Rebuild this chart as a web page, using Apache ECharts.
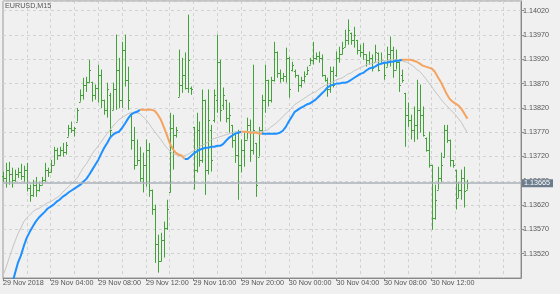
<!DOCTYPE html>
<html><head><meta charset="utf-8">
<script src="https://cdn.jsdelivr.net/npm/echarts@6/dist/echarts.min.js"></script>
<style>html,body{margin:0;padding:0;background:#f0f0f0}#c{width:560px;height:294px}</style>
</head><body><div id="c"></div>
<script>
const tickLabels = ['29 Nov 2018','29 Nov 04:00','29 Nov 08:00','29 Nov 12:00','29 Nov 16:00','29 Nov 20:00','30 Nov 00:00','30 Nov 04:00','30 Nov 08:00','30 Nov 12:00'];
const opens = [
1.13680,1.13676,1.13693,1.13683,1.13672,1.13685,1.13689,1.13680,1.13693,1.13656,
1.13641,1.13662,1.13652,1.13662,1.13672,1.13693,1.13689,1.13703,1.13734,1.13724,
1.13734,1.13730,1.13761,1.13779,1.13775,1.13792,1.13833,1.13847,1.13868,1.13874,
1.13874,1.13847,1.13862,1.13888,1.13837,1.13816,1.13847,1.13816,1.13858,1.13899,
1.13837,1.13940,1.13878,1.13806,1.13755,1.13703,1.13713,1.13676,1.13703,1.13734,
1.13652,1.13611,1.13539,1.13504,1.13549,1.13573,1.13646,1.13779,1.13765,1.13843,
1.13868,1.13888,1.13862,1.13862,1.13781,1.13693,1.13775,1.13713,1.13837,1.13693,
1.13775,1.13796,1.13837,1.13915,1.13827,1.13837,1.13800,1.13785,1.13755,1.13724,
1.13703,1.13734,1.13755,1.13785,1.13734,1.13748,1.13720,1.13775,1.13837,1.13878,
1.13837,1.13878,1.13936,1.13892,1.13882,1.13886,1.13923,1.13899,1.13895,1.13888,
1.13868,1.13878,1.13890,1.13909,1.13919,1.13923,1.13927,1.13923,1.13888,1.13878,
1.13858,1.13895,1.13888,1.13923,1.13930,1.13946,1.13960,1.13975,1.13960,1.13960,
1.13940,1.13936,1.13930,1.13919,1.13923,1.13915,1.13934,1.13913,1.13915,1.13905,
1.13930,1.13940,1.13899,1.13915,1.13888,1.13851,1.13806,1.13796,1.13775,1.13785,
1.13816,1.13806,1.13759,1.13734,1.13703,1.13594,1.13652,1.13676,1.13718,1.13775,
1.13755,1.13713,1.13693,1.13635,1.13652,1.13676,1.13652];
const highs = [
1.13689,1.13707,1.13709,1.13697,1.13693,1.13697,1.13705,1.13701,1.13707,1.13662,
1.13672,1.13678,1.13668,1.13678,1.13707,1.13697,1.13713,1.13740,1.13738,1.13740,
1.13748,1.13750,1.13785,1.13792,1.13781,1.13820,1.13858,1.13882,1.13884,1.13919,
1.13874,1.13868,1.13909,1.13899,1.13837,1.13872,1.13851,1.13872,1.13971,1.13923,
1.13956,1.13971,1.13905,1.13810,1.13781,1.13755,1.13740,1.13728,1.13755,1.13748,
1.13652,1.13621,1.13559,1.13563,1.13586,1.13631,1.13810,1.13806,1.13781,1.13940,
1.13923,1.13934,1.14012,1.13864,1.13781,1.13810,1.13792,1.13858,1.13837,1.13858,
1.13785,1.13858,1.13971,1.13919,1.13862,1.13837,1.13831,1.13785,1.13769,1.13775,
1.13755,1.13769,1.13800,1.13796,1.13909,1.13748,1.13781,1.13847,1.13909,1.13878,
1.13884,1.13956,1.13936,1.13899,1.13892,1.13944,1.13925,1.13915,1.13899,1.13888,
1.13884,1.13895,1.13905,1.13923,1.13956,1.13934,1.13936,1.13930,1.13888,1.13882,
1.13905,1.13905,1.13936,1.13946,1.13956,1.13981,1.14002,1.13975,1.13987,1.13960,
1.13950,1.13954,1.13930,1.13936,1.13930,1.13950,1.13934,1.13934,1.13915,1.13946,
1.13967,1.13946,1.13940,1.13915,1.13899,1.13851,1.13831,1.13806,1.13823,1.13878,
1.13868,1.13823,1.13759,1.13771,1.13703,1.13662,1.13699,1.13728,1.13785,1.13785,
1.13755,1.13713,1.13693,1.13668,1.13693,1.13699,1.13672];
const lows = [
1.13668,1.13656,1.13662,1.13656,1.13668,1.13676,1.13672,1.13668,1.13648,1.13627,
1.13637,1.13637,1.13648,1.13662,1.13668,1.13678,1.13687,1.13703,1.13713,1.13720,
1.13720,1.13724,1.13761,1.13769,1.13761,1.13792,1.13833,1.13837,1.13853,1.13872,
1.13833,1.13837,1.13831,1.13820,1.13806,1.13800,1.13761,1.13816,1.13816,1.13820,
1.13820,1.13864,1.13816,1.13734,1.13693,1.13703,1.13668,1.13646,1.13658,1.13637,
1.13600,1.13501,1.13481,1.13504,1.13512,1.13569,1.13646,1.13693,1.13759,1.13843,
1.13851,1.13858,1.13851,1.13847,1.13652,1.13687,1.13699,1.13707,1.13641,1.13683,
1.13689,1.13790,1.13810,1.13792,1.13816,1.13790,1.13769,1.13738,1.13707,1.13631,
1.13687,1.13699,1.13755,1.13709,1.13724,1.13637,1.13720,1.13769,1.13810,1.13823,
1.13831,1.13874,1.13882,1.13872,1.13874,1.13872,1.13841,1.13895,1.13882,1.13853,
1.13862,1.13872,1.13888,1.13909,1.13909,1.13919,1.13913,1.13884,1.13874,1.13843,
1.13851,1.13862,1.13884,1.13913,1.13930,1.13946,1.13950,1.13950,1.13944,1.13930,
1.13925,1.13919,1.13905,1.13909,1.13895,1.13915,1.13895,1.13913,1.13878,1.13905,
1.13905,1.13882,1.13899,1.13853,1.13872,1.13740,1.13781,1.13755,1.13750,1.13755,
1.13769,1.13761,1.13730,1.13697,1.13569,1.13590,1.13652,1.13668,1.13718,1.13748,
1.13699,1.13697,1.13611,1.13635,1.13631,1.13615,1.13652];
const closes = [
1.13676,1.13693,1.13683,1.13672,1.13685,1.13689,1.13680,1.13693,1.13656,1.13641,
1.13662,1.13652,1.13662,1.13672,1.13693,1.13689,1.13703,1.13734,1.13724,1.13734,
1.13730,1.13744,1.13779,1.13775,1.13779,1.13816,1.13847,1.13868,1.13874,1.13899,
1.13847,1.13862,1.13888,1.13837,1.13816,1.13858,1.13775,1.13858,1.13899,1.13837,
1.13940,1.13878,1.13837,1.13755,1.13703,1.13713,1.13676,1.13703,1.13734,1.13652,
1.13611,1.13539,1.13504,1.13549,1.13573,1.13611,1.13779,1.13765,1.13775,1.13868,
1.13888,1.13862,1.13919,1.13858,1.13693,1.13775,1.13713,1.13837,1.13693,1.13796,
1.13713,1.13847,1.13915,1.13816,1.13847,1.13800,1.13806,1.13755,1.13724,1.13703,
1.13734,1.13755,1.13785,1.13734,1.13775,1.13662,1.13775,1.13837,1.13878,1.13837,
1.13878,1.13936,1.13892,1.13882,1.13886,1.13923,1.13858,1.13909,1.13888,1.13868,
1.13878,1.13886,1.13899,1.13919,1.13923,1.13927,1.13923,1.13888,1.13878,1.13858,
1.13895,1.13868,1.13923,1.13930,1.13944,1.13960,1.13981,1.13960,1.13971,1.13940,
1.13936,1.13930,1.13919,1.13923,1.13903,1.13936,1.13899,1.13919,1.13888,1.13930,
1.13940,1.13899,1.13915,1.13868,1.13878,1.13806,1.13796,1.13775,1.13785,1.13816,
1.13806,1.13765,1.13734,1.13703,1.13594,1.13631,1.13676,1.13703,1.13775,1.13755,
1.13713,1.13703,1.13635,1.13652,1.13676,1.13648,1.13665];
const slowMA = [
1.13475,1.13491,1.13510,1.13528,1.13545,1.13561,1.13573,1.13586,1.13594,1.13600,
1.13606,1.13611,1.13613,1.13617,1.13621,1.13625,1.13627,1.13631,1.13635,1.13639,
1.13646,1.13652,1.13658,1.13664,1.13670,1.13676,1.13687,1.13697,1.13705,1.13715,
1.13726,1.13734,1.13742,1.13750,1.13759,1.13767,1.13775,1.13783,1.13790,1.13796,
1.13800,1.13804,1.13808,1.13810,1.13810,1.13810,1.13808,1.13802,1.13796,1.13788,
1.13779,1.13771,1.13763,1.13755,1.13746,1.13738,1.13732,1.13726,1.13724,1.13722,
1.13720,1.13722,1.13724,1.13728,1.13732,1.13736,1.13740,1.13744,1.13746,1.13750,
1.13755,1.13757,1.13759,1.13761,1.13763,1.13765,1.13767,1.13769,1.13771,1.13771,
1.13771,1.13771,1.13771,1.13771,1.13771,1.13771,1.13771,1.13771,1.13773,1.13775,
1.13781,1.13785,1.13790,1.13796,1.13802,1.13808,1.13814,1.13820,1.13827,1.13831,
1.13835,1.13839,1.13843,1.13847,1.13851,1.13853,1.13858,1.13862,1.13866,1.13868,
1.13872,1.13874,1.13878,1.13880,1.13882,1.13886,1.13890,1.13892,1.13897,1.13899,
1.13903,1.13905,1.13909,1.13911,1.13911,1.13913,1.13915,1.13917,1.13917,1.13917,
1.13919,1.13919,1.13919,1.13919,1.13917,1.13915,1.13913,1.13909,1.13905,1.13899,
1.13895,1.13888,1.13880,1.13872,1.13864,1.13855,1.13847,1.13839,1.13831,1.13825,
1.13818,1.13812,1.13806,1.13798,1.13790,1.13779,1.13769];
const signalMA = [
null,null,null,1.13456,1.13479,1.13501,1.13516,1.13536,1.13553,1.13565,
1.13576,1.13586,1.13594,1.13600,1.13606,1.13613,1.13617,1.13621,1.13627,1.13631,
1.13637,1.13641,1.13646,1.13650,1.13654,1.13658,1.13662,1.13668,1.13674,1.13683,
1.13693,1.13703,1.13713,1.13726,1.13738,1.13748,1.13759,1.13765,1.13769,1.13771,
1.13779,1.13788,1.13798,1.13806,1.13810,1.13812,1.13816,1.13816,1.13816,1.13816,
1.13816,1.13814,1.13806,1.13796,1.13781,1.13765,1.13748,1.13736,1.13728,1.13724,
1.13722,1.13715,1.13715,1.13720,1.13726,1.13730,1.13734,1.13736,1.13738,1.13738,
1.13740,1.13740,1.13742,1.13742,1.13746,1.13753,1.13759,1.13763,1.13767,1.13769,
1.13771,1.13771,1.13771,1.13769,1.13769,1.13769,1.13767,1.13767,1.13767,1.13767,
1.13767,1.13767,1.13767,1.13769,1.13773,1.13781,1.13792,1.13802,1.13812,1.13816,
1.13820,1.13823,1.13827,1.13829,1.13833,1.13837,1.13843,1.13849,1.13855,1.13862,
1.13866,1.13868,1.13870,1.13870,1.13872,1.13872,1.13874,1.13878,1.13882,1.13886,
1.13890,1.13892,1.13897,1.13901,1.13903,1.13905,1.13909,1.13911,1.13913,1.13913,
1.13915,1.13915,1.13917,1.13917,1.13919,1.13919,1.13919,1.13919,1.13917,1.13915,
1.13911,1.13907,1.13905,1.13903,1.13901,1.13895,1.13884,1.13874,1.13862,1.13849,
1.13839,1.13833,1.13829,1.13825,1.13818,1.13808,1.13798];
const downRanges = [[46,60],[80,86],[134,156]];
const lastPrice = 1.13665;
const totalSlots = 175;

const cats = [];
for (let i = 0; i < totalSlots; i++) {
  const m = i * 15, d = 29 + Math.floor(m / 1440), h = Math.floor((m % 1440) / 60), mm = m % 60;
  cats.push(d + ' Nov ' + String(h).padStart(2,'0') + ':' + String(mm).padStart(2,'0'));
}
const ohlc = opens.map((o, i) => [i, o, highs[i], lows[i], closes[i]]);
const inDown = i => downRanges.some(r => i > r[0] && i <= r[1]);
const inOrange = i => downRanges.some(r => i >= r[0] && i <= r[1] + 1);
const blueData = signalMA.map((v, i) => inDown(i) ? null : v);
const orangeData = signalMA.map((v, i) => inOrange(i) ? v : null);

const FONT = 'Liberation Sans';
const BAR = '#43a13a';
const labelInt = i => i % 16 === 0 && i / 16 < tickLabels.length;

const chart = echarts.init(document.getElementById('c'), null, {renderer: 'canvas'});
chart.setOption({
  animation: false,
  backgroundColor: '#f0f0f0',
  title: {text: 'EURUSD,M15', left: 5, top: 3, padding: 0,
    textStyle: {fontSize: 7.2, fontWeight: 'normal', color: '#555', fontFamily: FONT}},
  grid: {left: 2, right: 39, top: 1, bottom: 16, show: true, borderColor: '#999', borderWidth: 1, backgroundColor: 'transparent'},
  xAxis: {
    type: 'category', data: cats, boundaryGap: false,
    axisLine: {show: true, lineStyle: {color: '#888'}},
    axisTick: {show: true, length: 3, interval: labelInt, lineStyle: {color: '#888'}},
    axisLabel: {interval: labelInt, formatter: (v, i) => tickLabels[i / 16] || '', align: 'left',
      margin: 2, fontSize: 7.2, color: '#555', fontFamily: FONT},
    splitLine: {show: true, interval: i => i % 8 === 0 && i > 0, lineStyle: {color: '#d2d2d2', type: [3, 3]}}
  },
  yAxis: {
    type: 'value', position: 'right', min: 1.1347, max: 1.1404, interval: 0.0005,
    axisLine: {show: true, lineStyle: {color: '#888'}},
    axisTick: {show: true, length: 3, lineStyle: {color: '#888'}},
    axisLabel: {showMinLabel: false, showMaxLabel: false, margin: 2, fontSize: 7.2, color: '#555', fontFamily: FONT,
      formatter: v => v.toFixed(5)},
    splitLine: {show: true, lineStyle: {color: '#d2d2d2', type: [3, 3]}}
  },
  series: [
    {
      type: 'line', data: slowMA, showSymbol: false, z: 3,
      lineStyle: {color: '#c4c4c4', width: 1},
      markLine: {silent: true, symbol: 'none', animation: false,
        data: [[{coord: [cats[0], lastPrice]}, {coord: [cats[totalSlots - 1], lastPrice]}]],
        lineStyle: {color: '#aab2ba', width: 1.5, type: 'solid'},
        label: {show: true, position: 'end', distance: 1, formatter: () => lastPrice.toFixed(5), color: '#fff',
          backgroundColor: '#6b7c8d', padding: [1, 3, 0, 2], fontSize: 7.2, fontFamily: FONT}}
    },
    {
      type: 'custom', data: ohlc, z: 2,
      encode: {x: 0, y: [1, 2, 3, 4]},
      renderItem: function (params, api) {
        const i = api.value(0);
        const o = api.coord([i, api.value(1)]);
        const h = api.coord([i, api.value(2)]);
        const l = api.coord([i, api.value(3)]);
        const c = api.coord([i, api.value(4)]);
        const x = Math.round(h[0]) + 0.5;
        const st = {stroke: BAR, lineWidth: 1};
        return {type: 'group', children: [
          {type: 'line', shape: {x1: x, y1: h[1], x2: x, y2: l[1]}, style: st},
          {type: 'line', shape: {x1: x - 1.5, y1: Math.round(o[1]) + 0.5, x2: x, y2: Math.round(o[1]) + 0.5}, style: st},
          {type: 'line', shape: {x1: x, y1: Math.round(c[1]) + 0.5, x2: x + 1.5, y2: Math.round(c[1]) + 0.5}, style: st}
        ]};
      }
    },
    {type: 'line', data: blueData, showSymbol: false, z: 4, connectNulls: false,
      lineStyle: {color: '#1e90ff', width: 2}},
    {type: 'line', data: orangeData, showSymbol: false, z: 4, connectNulls: false,
      lineStyle: {color: '#f4a460', width: 2}}
  ]
});
</script></body></html>
